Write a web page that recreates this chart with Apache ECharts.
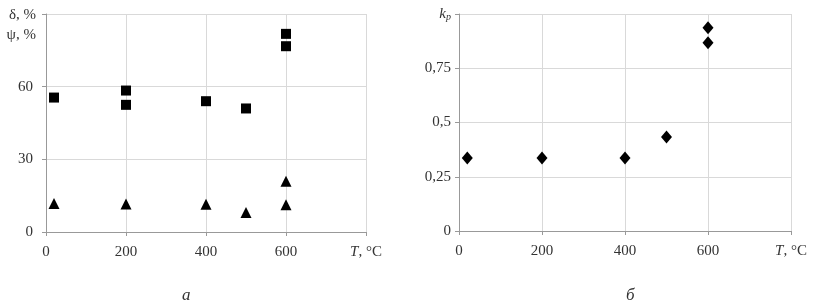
<!DOCTYPE html>
<html><head><meta charset="utf-8">
<script src="https://cdn.jsdelivr.net/npm/echarts@6/dist/echarts.min.js"></script>
<style>html,body{margin:0;padding:0;background:#fff}#c{width:818px;height:303px}</style>
</head><body><div id="c"></div>
<script>
// Panel a: δ (squares) and ψ (triangles) vs T
const squaresT = [20, 200, 200, 400, 500, 600, 600];
const squaresV = [55.5, 58.4, 52.5, 54, 51, 81.8, 76.7];
const trianglesT = [20, 200, 400, 500, 600, 600];
const trianglesV = [11.8, 11.6, 11.5, 8.1, 21, 11.2];
// Panel б: k_p vs T
const diamondsT = [20, 200, 400, 500, 600, 600];
const diamondsV = [0.336, 0.336, 0.336, 0.433, 0.937, 0.868];
const xTicks = [0, 200, 400, 600];
const leftYTicks = [0, 30, 60];
const rightYTicks = ['0', '0,25', '0,5', '0,75'];

const font = 'Liberation Serif';
const zip = (a, b) => a.map((v, i) => [v, b[i]]);
const txt = {fontFamily: font, fontSize: 15, color: '#333'};
const xLabelFmt = v => v === 800 ? '{i|T}, °C' : (xTicks.includes(v) ? String(v) : '');
function xAxis(gi) {
  return {
    gridIndex: gi, type: 'value', min: 0, max: 800, interval: 200,
    axisLine: {lineStyle: {color: '#999'}},
    axisTick: {show: true, length: 4, inside: false, lineStyle: {color: '#999'}},
    splitLine: {show: true, lineStyle: {color: '#d9d9d9'}},
    axisLabel: Object.assign({}, txt, {margin: 13, formatter: xLabelFmt,
      rich: {i: {fontFamily: font, fontSize: 15, fontStyle: 'italic', color: '#333'}}})
  };
}
const chart = echarts.init(document.getElementById('c'));
chart.setOption({
  animation: false,
  grid: [
    {left: 46, right: 452, top: 14, bottom: 71},
    {left: 459, right: 27, top: 14, bottom: 72}
  ],
  xAxis: [xAxis(0), xAxis(1)],
  yAxis: [
    {gridIndex: 0, type: 'value', min: 0, max: 90, interval: 30,
     axisLine: {show: true, lineStyle: {color: '#999'}},
     axisTick: {show: true, length: 4, lineStyle: {color: '#999'}},
     splitLine: {lineStyle: {color: '#d9d9d9'}},
     axisLabel: Object.assign({}, txt, {margin: 13,
       formatter: v => v === 90 ? '' : (leftYTicks.includes(v) ? String(v) : '')})},
    {gridIndex: 1, type: 'value', min: 0, max: 1, interval: 0.25,
     axisLine: {show: true, lineStyle: {color: '#999'}},
     axisTick: {show: true, length: 4, lineStyle: {color: '#999'}},
     splitLine: {lineStyle: {color: '#d9d9d9'}},
     axisLabel: Object.assign({}, txt, {margin: 8,
       formatter: (v, i) => v === 1 ? '{k|k}{p|p}' : (rightYTicks[i] || ''),
       rich: {k: {fontFamily: font, fontSize: 15, fontStyle: 'italic', color: '#333'},
              p: {fontFamily: font, fontSize: 10, fontStyle: 'italic', color: '#333', verticalAlign: 'bottom', padding: [7,0,0,0]}}})}
  ],
  series: [
    {type: 'scatter', xAxisIndex: 0, yAxisIndex: 0, symbol: 'rect', symbolSize: 10,
     itemStyle: {color: '#000', opacity: 1}, data: zip(squaresT, squaresV)},
    {type: 'scatter', xAxisIndex: 0, yAxisIndex: 0, symbol: 'triangle', symbolSize: 11,
     itemStyle: {color: '#000', opacity: 1}, data: zip(trianglesT, trianglesV)},
    {type: 'scatter', xAxisIndex: 1, yAxisIndex: 1, symbol: 'diamond', symbolSize: [11, 13],
     itemStyle: {color: '#000', opacity: 1}, data: zip(diamondsT, diamondsV)}
  ],
  graphic: [
    {type: 'text', right: 818 - 36, top: 8, style: {text: 'δ, %', font: '15px "Liberation Serif"', fill: '#333', align: 'right'}},
    {type: 'text', right: 818 - 36, top: 28, style: {text: 'ψ, %', font: '15px "Liberation Serif"', fill: '#333', align: 'right'}},
    {type: 'text', left: 182, top: 287, style: {text: 'а', font: 'italic 17px "Liberation Serif"', fill: '#333'}},
    {type: 'text', left: 626, top: 287, style: {text: 'б', font: 'italic 17px "Liberation Serif"', fill: '#333'}}
  ]
});
</script></body></html>
